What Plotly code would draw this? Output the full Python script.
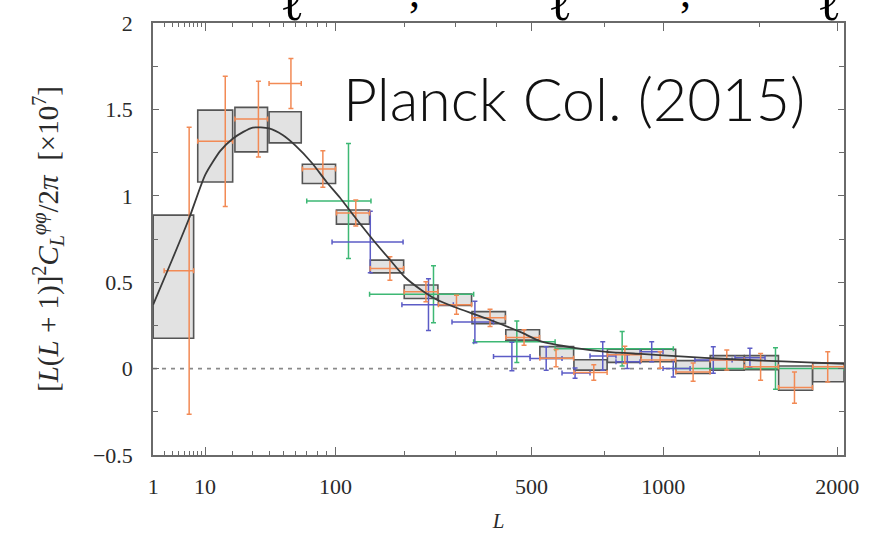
import numpy as np
import plotly.graph_objects as go

# The L axis is drawn uniform in L**0.4
POW = 0.4


def tx(L):
    return np.asarray(L, dtype=float) ** POW


# ---- Planck bandpowers (grey boxes): bin edges, centre, half-height ----
bin_lo = [1, 8, 21, 40, 66, 101, 145, 199, 264, 339, 426, 526, 639, 763, 902,
          1059, 1230, 1416, 1617, 1834]
bin_hi = [7, 20, 39, 65, 100, 144, 198, 263, 338, 425, 525, 638, 762, 901, 1058,
          1229, 1415, 1616, 1833, 2048]
box_val = [0.532, 1.288, 1.383, 1.396, 1.127, 0.877, 0.591, 0.445, 0.398, 0.295,
           0.195, 0.093, 0.021, 0.074, 0.076, 0.009, 0.033, 0.034, -0.055, -0.022]
box_err = [0.356, 0.208, 0.129, 0.090, 0.056, 0.041, 0.037, 0.039, 0.033, 0.035,
           0.030, 0.034, 0.030, 0.038, 0.036, 0.037, 0.042, 0.041, 0.070, 0.054]

# ---- orange crosses ----
org_L = [6, 16.9, 33.3, 56.2, 86, 125, 175, 239, 303, 384, 478, 578, 711, 833,
         986, 1143, 1318, 1509, 1716, 1935]
org_lo = [2, 8, 21, 40, 66, 101, 145, 199, 264, 339, 426, 526, 639, 763, 902,
          1059, 1230, 1416, 1617, 1834]
org_hi = [7, 20, 39, 65, 100, 144, 198, 263, 338, 425, 525, 638, 762, 901, 1058,
          1229, 1415, 1616, 1833, 2048]
org_val = [0.566, 1.315, 1.444, 1.650, 1.155, 0.900, 0.580, 0.445, 0.370, 0.294,
           0.180, 0.060, -0.023, 0.080, 0.050, -0.020, 0.050, 0.010, -0.110, 0.010]
org_err = [0.830, 0.377, 0.219, 0.145, 0.105, 0.075, 0.068, 0.058, 0.055, 0.050,
           0.045, 0.050, 0.045, 0.050, 0.048, 0.053, 0.058, 0.077, 0.090, 0.087]

# ---- green crosses ----
grn_L = [115.6, 254, 457, 822, 1598]
grn_lo = [70, 144, 343, 575, 1047]
grn_hi = [146, 343, 575, 1047, 2048]
grn_val = [0.970, 0.430, 0.155, 0.115, 0.000]
grn_err = [0.333, 0.165, 0.120, 0.100, 0.120]

# ---- blue crosses ----
blu_L = [145, 244, 346, 443, 546, 643, 745, 843, 948, 1047, 1246, 1447]
blu_lo = [96, 195, 293, 393, 496, 598, 697, 797, 897, 999, 1152, 1363]
blu_hi = [197, 296, 393, 496, 598, 697, 797, 897, 999, 1128, 1347, 1535]
blu_val = [0.733, 0.370, 0.270, 0.070, 0.058, -0.026, 0.073, 0.040, 0.098, 0.000,
           0.050, 0.063]
blu_err = [0.178, 0.150, 0.120, 0.082, 0.068, 0.030, 0.082, 0.040, 0.058, 0.048,
           0.077, 0.055]

# ---- fiducial model curve ----
th_L = [1, 3, 6, 10, 15, 20, 25, 30, 40, 50, 60, 75, 90, 105, 125, 150, 175, 200,
        230, 260, 300, 375, 475, 525, 640, 760, 900, 1000, 1200, 1500, 1800, 2048]
th_val = [0.37, 0.63, 0.87, 1.12, 1.26, 1.33, 1.37, 1.395, 1.39, 1.35, 1.29, 1.19,
          1.08, 0.99, 0.87, 0.74, 0.63, 0.53, 0.455, 0.40, 0.355, 0.29, 0.205,
          0.16, 0.12, 0.097, 0.085, 0.077, 0.062, 0.047, 0.036, 0.028]

# ---- axis ticks ----
x_major = [1, 10, 100, 500, 1000, 2000]
x_major_text = ["1", "10", "100", "500", "1000", "2000"]
x_minor = [2, 3, 4, 5, 6, 7, 8, 9, 20, 30, 40, 50, 60, 70, 80, 90, 200, 300, 400,
           750, 1500]
y_major = [-0.5, 0, 0.5, 1, 1.5, 2]
y_major_text = ["\u22120.5", "0", "0.5", "1", "1.5", "2"]

ORANGE = "#f28a55"
GREEN = "#3db874"
BLUE = "#5c5cc6"
AXIS = "#6a6a6a"
SERIF = "Liberation Serif"
TEXT = "#2a2a2a"

fig = go.Figure()

# grey bandpower boxes
for lo, hi, v, e in zip(bin_lo, bin_hi, box_val, box_err):
    fig.add_shape(type="rect", xref="x", yref="y",
                  x0=float(tx(lo)), x1=float(tx(hi)), y0=v - e, y1=v + e,
                  fillcolor="#e2e2e2", line=dict(color="#555555", width=1.6),
                  layer="below")

# dashed zero line
fig.add_shape(type="line", xref="paper", yref="y", x0=0, x1=1, y0=0, y1=0,
              line=dict(color="#8a8a8a", width=1.6, dash="4px,5px"), layer="below")


def cross(L, lo, hi, val, err, color):
    xc = tx(L)
    return go.Scatter(
        x=xc, y=val, mode="markers",
        marker=dict(size=1, color=color),
        error_x=dict(type="data", symmetric=False,
                     array=tx(hi) - xc, arrayminus=xc - tx(lo),
                     color=color, thickness=1.5, width=2.5),
        error_y=dict(type="data", array=err, color=color,
                     thickness=1.5, width=2.5),
        showlegend=False, hoverinfo="skip")


fig.add_trace(cross(grn_L, grn_lo, grn_hi, grn_val, grn_err, GREEN))
fig.add_trace(cross(blu_L, blu_lo, blu_hi, blu_val, blu_err, BLUE))
fig.add_trace(cross(org_L, org_lo, org_hi, org_val, org_err, ORANGE))

fig.add_trace(go.Scatter(x=tx(th_L), y=th_val, mode="lines",
                         line=dict(color="#3a3a3a", width=1.8, shape="spline",
                                   smoothing=0.6),
                         showlegend=False, hoverinfo="skip"))

# big label inside the panel
fig.add_annotation(text="Planck Col. (2015)", xref="paper", yref="paper",
                   x=0.272, y=0.826, xanchor="left", yanchor="middle",
                   showarrow=False,
                   font=dict(family="Lato", size=59, color="#111111", weight=300))

# lower parts of a larger formula line above the panel
for xp in [292, 560, 829]:
    fig.add_annotation(text="\u2113", xref="paper", yref="paper",
                       x=(xp - 153) / 691, y=(455 - 34) / 432.3,
                       xanchor="center", yanchor="bottom", showarrow=False,
                       font=dict(family="DejaVu Serif", size=50, color="#000000"))
for xp in [414, 685]:
    fig.add_annotation(text=",", xref="paper", yref="paper",
                       x=(xp - 153) / 691, y=(455 - 19) / 432.3,
                       xanchor="center", yanchor="bottom", showarrow=False,
                       font=dict(family="Liberation Serif", size=44, color="#000000"))

tickfont = dict(family=SERIF, size=22, color=TEXT)

fig.update_xaxes(
    range=[float(tx(1)) - 0.005, float(tx(2048))],
    tickmode="array", tickvals=tx(x_major), ticktext=x_major_text,
    ticks="inside", ticklen=8, tickwidth=1.3, tickcolor=AXIS,
    minor=dict(tickmode="array", tickvals=tx(x_minor), ticks="inside",
               ticklen=4, tickwidth=1.3, tickcolor=AXIS, showgrid=False),
    showline=True, linecolor=AXIS, linewidth=1.6, mirror="ticks",
    showgrid=False, zeroline=False, tickfont=tickfont, ticklabelstandoff=11,
    automargin=False,
    title=dict(text="<i>L</i>", font=dict(family=SERIF, size=21, color=TEXT),
               standoff=16),
)
fig.update_yaxes(
    range=[-0.5, 2],
    tickmode="array", tickvals=y_major, ticktext=y_major_text,
    ticks="inside", ticklen=6, tickwidth=1.3, tickcolor=AXIS,
    minor=dict(tickmode="linear", tick0=-0.5, dtick=0.25, ticks="inside",
               ticklen=5, tickwidth=1.3, tickcolor=AXIS, showgrid=False),
    showline=True, linecolor=AXIS, linewidth=1.6, mirror="ticks",
    showgrid=False, zeroline=False, tickfont=tickfont, ticklabelstandoff=14,
    automargin=False,
    title=dict(text="[<i>L</i>(<i>L</i> + 1)]<sup>2</sup><i>C</i><sub><i>L</i></sub>"
                    "<sup><i>\u03c6\u03c6</i></sup>/2<i>\u03c0</i>  [\u00d710<sup>7</sup>]",
               font=dict(family=SERIF, size=29, color=TEXT), standoff=26),
)

fig.update_layout(
    width=892, height=533,
    margin=dict(l=153, r=48, t=23, b=78, autoexpand=False),
    paper_bgcolor="white", plot_bgcolor="white",
    showlegend=False,
)

fig.write_html("out.html")
